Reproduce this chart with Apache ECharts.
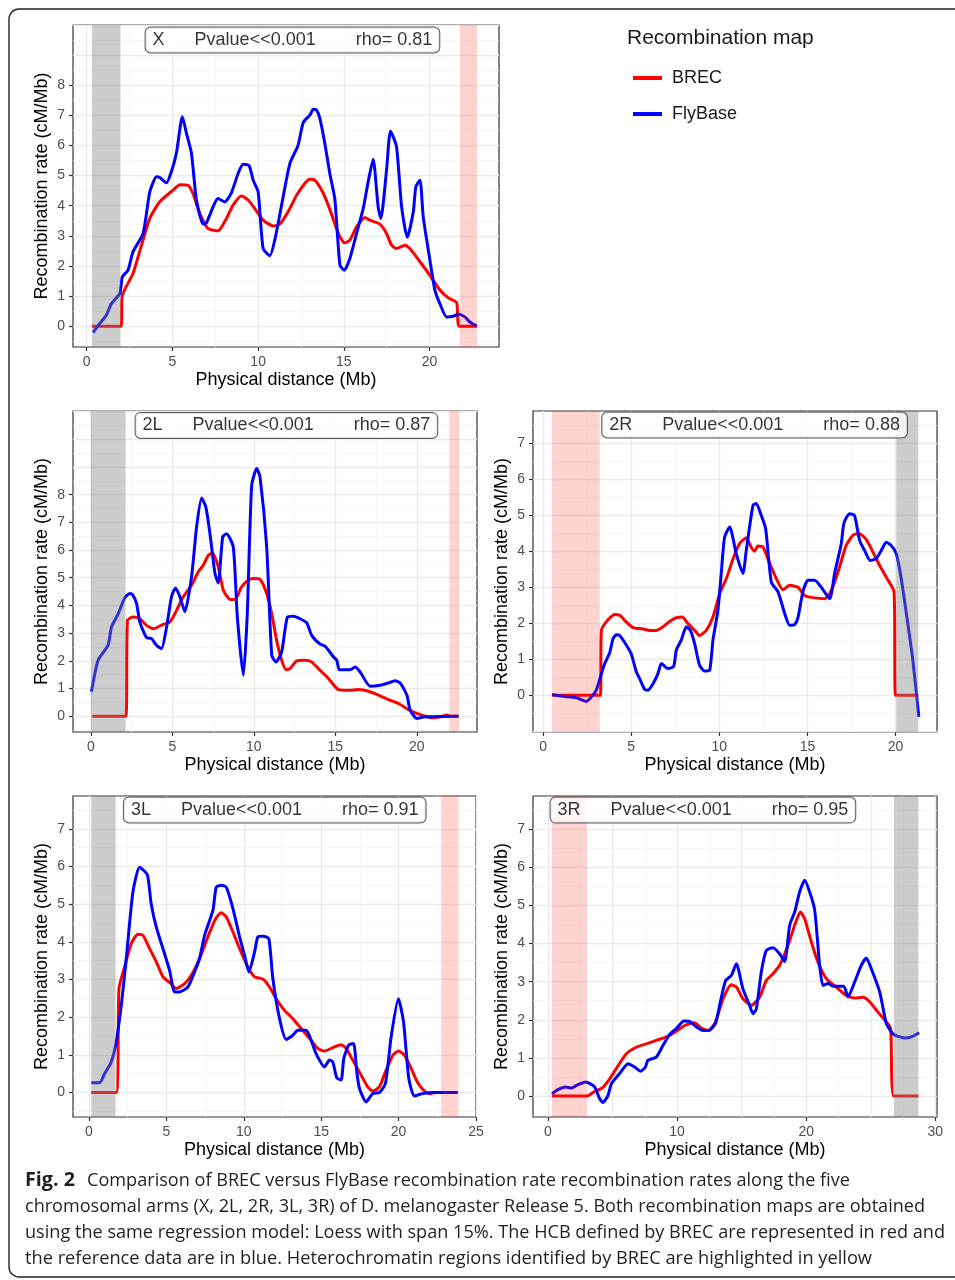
<!DOCTYPE html>
<html><head><meta charset="utf-8">
<script src="https://cdn.jsdelivr.net/npm/echarts@6/dist/echarts.min.js"></script>
<style>html,body{margin:0;padding:0;background:#fff}#c{width:955px;height:1280px}</style>
</head><body><div id="c"></div>
<script>
// ---------- DATA ----------
const seriesNames = ['BREC', 'FlyBase'];
const panelNames = ['X', '2L', '2R', '3L', '3R'];
const pvalueText = 'Pvalue<<0.001';
const rhoValues = ['0.81', '0.87', '0.88', '0.91', '0.95'];

const xTicksA = [0, 5, 10, 15, 20];
const xTicks3L = [0, 5, 10, 15, 20, 25];
const xTicks3R = [0, 10, 20, 30];
const yTicks8 = [0, 1, 2, 3, 4, 5, 6, 7, 8];
const yTicks7 = [0, 1, 2, 3, 4, 5, 6, 7];

// heterochromatin bands [start, end] in Mb
const bandX_gray = [0.31, 1.97],  bandX_pink = [21.77, 22.78];
const band2L_gray = [0.0, 2.13],  band2L_pink = [21.99, 22.6];
const band2R_pink = [0.51, 3.22], band2R_gray = [20.04, 21.29];
const band3L_gray = [0.15, 1.72], band3L_pink = [22.75, 23.87];
const band3R_pink = [0.31, 3.02], band3R_gray = [26.8, 28.69];

const X_brec = [[0.3,0],[2.0,0],[2.08,1.03],[2.7,1.75],[3.2,2.7],[3.68,3.58],[4.26,4.13],[5.04,4.52],[5.43,4.7],[5.91,4.68],[6.2,4.4],[6.6,3.74],[7.08,3.24],[7.67,3.17],[8.15,3.58],[8.54,4.02],[9.03,4.32],[9.42,4.19],[9.9,3.83],[10.29,3.52],[10.88,3.33],[11.26,3.39],[11.75,3.8],[12.24,4.35],[12.72,4.74],[13.0,4.88],[13.3,4.85],[13.7,4.52],[14.09,4.02],[14.47,3.41],[14.77,2.97],[15.06,2.77],[15.35,2.86],[15.74,3.3],[16.23,3.61],[16.52,3.52],[17.1,3.39],[17.49,3.08],[17.78,2.69],[18.07,2.58],[18.56,2.69],[18.85,2.58],[19.44,2.14],[20.02,1.69],[20.6,1.2],[21.09,0.94],[21.58,0.78],[21.73,0],[22.78,0]];
const X_fly = [[0.37,-0.21],[0.76,0.09],[1.15,0.37],[1.44,0.75],[1.93,1.09],[2.08,1.64],[2.41,1.86],[2.7,2.47],[3.29,3.08],[3.68,4.46],[4.07,4.96],[4.26,4.94],[4.65,4.76],[4.94,5.13],[5.23,5.74],[5.58,6.95],[5.82,6.4],[6.11,5.74],[6.4,4.19],[6.79,3.39],[6.98,3.43],[7.67,4.24],[8.05,4.13],[8.44,4.43],[8.83,5.07],[9.12,5.38],[9.47,5.33],[9.71,4.85],[10.0,4.46],[10.29,2.58],[10.68,2.34],[10.97,2.86],[11.46,4.3],[11.85,5.4],[12.33,6.01],[12.63,6.76],[13.02,7.01],[13.21,7.2],[13.4,7.18],[13.6,6.9],[13.89,6.07],[14.18,5.07],[14.47,4.24],[14.77,2.03],[15.02,1.86],[15.35,2.25],[15.74,3.08],[16.13,3.91],[16.42,4.8],[16.71,5.54],[17.0,3.96],[17.16,3.58],[17.49,5.18],[17.72,6.48],[18.07,5.96],[18.37,3.96],[18.7,2.95],[19.05,3.8],[19.2,4.63],[19.44,4.85],[19.63,3.63],[20.02,2.19],[20.31,1.2],[20.6,0.75],[20.99,0.31],[21.38,0.33],[21.67,0.4],[22.06,0.31],[22.35,0.14],[22.74,0.01]];

const L2_brec = [[0.1,0],[2.15,0],[2.25,3.46],[2.6,3.58],[3.01,3.52],[3.42,3.28],[3.87,3.16],[4.44,3.32],[4.85,3.4],[5.16,3.7],[5.67,4.31],[6.18,4.73],[6.59,5.21],[6.9,5.45],[7.21,5.81],[7.47,5.89],[7.82,5.39],[8.13,4.55],[8.54,4.22],[8.85,4.21],[9.25,4.67],[9.66,4.91],[9.97,4.97],[10.38,4.94],[10.79,4.43],[11.1,3.7],[11.4,2.74],[11.71,2.02],[11.98,1.68],[12.22,1.72],[12.63,2.0],[13.14,2.02],[13.55,1.96],[13.96,1.72],[14.58,1.36],[15.19,0.96],[15.81,0.94],[16.42,0.96],[17.04,0.9],[17.65,0.76],[18.26,0.6],[18.88,0.46],[19.49,0.24],[20.0,0.1],[20.52,0],[21.03,-0.06],[21.44,-0.02],[21.85,0.04],[22.05,0],[22.56,0]];
const L2_fly = [[0.04,0.88],[0.45,2.02],[1.06,2.56],[1.27,3.22],[1.68,3.7],[2.09,4.28],[2.4,4.43],[2.56,4.39],[2.81,4.07],[3.01,3.4],[3.42,2.84],[3.73,2.8],[4.03,2.56],[4.34,2.44],[4.65,3.22],[4.95,4.31],[5.2,4.63],[5.47,4.31],[5.77,3.77],[6.18,5.03],[6.49,6.83],[6.8,7.88],[7.06,7.55],[7.31,6.59],[7.62,5.15],[7.82,4.81],[8.09,6.47],[8.33,6.59],[8.74,6.11],[8.99,3.58],[9.36,1.48],[9.6,3.7],[9.87,8.34],[10.18,8.94],[10.38,8.64],[10.79,6.11],[11.1,2.2],[11.36,1.96],[11.71,2.32],[12.06,3.58],[12.43,3.61],[12.84,3.52],[13.25,3.37],[13.55,2.92],[14.07,2.6],[14.37,2.53],[14.89,2.14],[15.09,2.02],[15.25,1.68],[15.91,1.68],[16.22,1.78],[16.52,1.6],[17.14,1.08],[17.75,1.12],[18.26,1.2],[18.67,1.28],[18.98,1.2],[19.39,0.76],[19.59,0.22],[20.0,-0.08],[20.52,-0.02],[22.56,0]];

const R2_brec = [[0.51,0],[3.25,0],[3.31,1.8],[3.69,2.1],[4.06,2.24],[4.35,2.22],[4.73,2.03],[5.1,1.88],[5.67,1.84],[6.05,1.8],[6.43,1.8],[6.81,1.9],[7.18,2.05],[7.56,2.15],[7.9,2.17],[8.22,1.99],[8.6,1.8],[8.88,1.66],[9.26,1.8],[9.64,2.17],[10.02,2.82],[10.4,3.24],[10.78,3.79],[11.15,4.21],[11.53,4.37],[11.81,4.11],[12.0,4.0],[12.19,4.14],[12.48,4.11],[12.85,3.67],[13.23,3.24],[13.61,2.93],[13.99,3.05],[14.46,3.0],[14.84,2.77],[15.31,2.71],[15.97,2.68],[16.26,2.82],[16.54,3.14],[16.82,3.56],[17.2,4.16],[17.58,4.44],[17.96,4.48],[18.34,4.32],[18.71,3.98],[19.09,3.61],[19.47,3.28],[19.91,2.87],[20.0,0],[21.29,0]];
const R2_fly = [[0.51,0.02],[1.13,-0.03],[1.89,-0.07],[2.46,-0.17],[2.74,-0.05],[3.02,0.14],[3.31,0.6],[3.5,0.88],[3.78,1.18],[3.97,1.57],[4.16,1.68],[4.35,1.66],[4.73,1.39],[5.01,1.14],[5.29,0.65],[5.48,0.46],[5.77,0.16],[5.95,0.14],[6.24,0.32],[6.52,0.6],[6.71,0.88],[7.09,0.74],[7.41,0.8],[7.56,1.25],[7.84,1.53],[8.13,1.9],[8.36,1.8],[8.6,1.43],[8.88,0.83],[9.17,0.67],[9.45,0.69],[9.64,1.53],[9.92,2.36],[10.11,3.38],[10.3,4.39],[10.59,4.67],[10.96,3.93],[11.34,3.38],[11.53,4.02],[11.91,5.27],[12.1,5.32],[12.38,4.99],[12.63,4.62],[12.95,3.14],[13.33,2.87],[13.71,2.27],[13.99,1.94],[14.27,1.96],[14.46,2.15],[14.74,2.87],[15.03,3.19],[15.41,3.19],[15.78,3.0],[16.26,2.68],[16.54,3.38],[16.92,4.21],[17.07,4.78],[17.39,5.04],[17.67,4.99],[17.96,4.3],[18.24,4.02],[18.56,3.74],[18.9,3.79],[19.19,4.02],[19.47,4.25],[19.75,4.16],[20.04,3.93],[20.32,3.24],[20.6,2.31],[20.98,0.97],[21.32,-0.6]];

const L3_brec = [[0.15,0],[1.76,0],[1.94,2.76],[2.3,3.33],[2.73,3.95],[3.16,4.2],[3.49,4.17],[3.92,3.82],[4.35,3.47],[4.78,3.07],[5.21,2.92],[5.64,2.76],[6.18,2.89],[6.61,3.11],[7.14,3.55],[7.68,4.13],[8.18,4.61],[8.54,4.77],[8.87,4.66],[9.3,4.26],[9.73,3.82],[10.26,3.33],[10.7,3.07],[11.23,3.01],[11.66,2.8],[12.09,2.49],[12.63,2.18],[13.17,1.96],[13.71,1.7],[14.25,1.43],[14.78,1.17],[15.21,1.1],[15.75,1.19],[16.29,1.27],[16.61,1.17],[17.04,0.86],[17.58,0.46],[18.01,0.15],[18.33,0.04],[18.76,0.15],[19.19,0.59],[19.63,0.99],[19.99,1.1],[20.38,0.99],[20.81,0.64],[21.24,0.26],[21.67,0.04],[22.0,-0.03],[22.43,0],[23.82,0]];
const L3_fly = [[0.15,0.26],[0.69,0.26],[1.01,0.5],[1.44,0.81],[1.76,1.34],[2.09,2.32],[2.41,3.55],[2.84,5.32],[3.27,5.98],[3.77,5.78],[4.02,5.01],[4.35,4.39],[4.78,3.82],[5.21,3.24],[5.53,2.67],[5.85,2.67],[6.39,2.8],[6.82,3.2],[7.14,3.55],[7.47,4.17],[8.01,4.84],[8.22,5.45],[8.54,5.5],[8.87,5.45],[9.3,4.88],[9.73,4.13],[10.05,3.64],[10.33,3.2],[10.7,3.73],[10.91,4.13],[11.28,4.15],[11.62,4.08],[11.88,3.02],[12.31,1.96],[12.74,1.41],[13.17,1.52],[13.49,1.65],[14.03,1.65],[14.35,1.39],[14.67,1.03],[15.21,0.68],[15.54,0.86],[15.75,0.81],[16.01,0.39],[16.29,0.33],[16.46,0.9],[16.78,1.26],[17.09,1.3],[17.3,0.55],[17.47,0.11],[17.9,-0.25],[18.33,-0.03],[18.76,0],[19.15,0.24],[19.52,1.48],[19.99,2.49],[20.32,1.87],[20.66,0.37],[21.02,-0.09],[21.56,-0.03],[22.2,0],[23.82,0]];

const R3_brec = [[0.31,0],[3.02,0],[3.61,0.12],[4.21,0.21],[4.78,0.45],[5.29,0.72],[6.07,1.11],[6.84,1.28],[7.62,1.37],[8.39,1.46],[9.17,1.55],[9.94,1.7],[10.59,1.85],[11.36,1.92],[11.88,1.78],[12.39,1.72],[12.91,1.9],[13.56,2.55],[14.2,2.92],[14.59,2.86],[15.1,2.55],[15.75,2.38],[16.4,2.6],[16.91,3.03],[17.43,3.21],[17.94,3.43],[18.59,3.95],[19.11,4.48],[19.55,4.83],[19.88,4.65],[20.4,4.04],[20.91,3.51],[21.56,3.08],[22.33,2.86],[23.11,2.64],[23.75,2.57],[24.4,2.59],[24.92,2.47],[25.56,2.2],[26.21,1.94],[26.54,1.77],[26.78,0],[28.69,0]];
const R3_fly = [[0.31,0.06],[0.77,0.17],[1.37,0.24],[1.81,0.21],[2.32,0.3],[2.92,0.37],[3.61,0.24],[4.0,-0.07],[4.26,-0.17],[4.65,0.02],[4.91,0.32],[5.55,0.59],[6.2,0.85],[6.71,0.76],[7.18,0.65],[7.54,0.76],[7.75,0.94],[8.39,1.02],[8.91,1.33],[9.42,1.61],[9.94,1.77],[10.53,1.97],[10.97,1.96],[11.49,1.81],[12.01,1.72],[12.47,1.72],[12.99,1.92],[13.35,2.47],[13.76,3.03],[14.2,3.16],[14.59,3.47],[15.1,2.81],[15.57,2.42],[15.88,2.16],[16.14,2.29],[16.52,3.25],[16.91,3.82],[17.43,3.89],[17.94,3.73],[18.33,3.53],[18.72,4.48],[19.11,4.83],[19.49,5.35],[19.88,5.66],[20.27,5.35],[20.66,4.87],[21.04,3.43],[21.3,2.9],[21.69,2.95],[22.08,2.88],[22.9,2.88],[23.24,2.6],[23.75,2.99],[24.27,3.43],[24.66,3.62],[25.04,3.34],[25.69,2.73],[26.21,1.9],[26.72,1.63],[27.24,1.55],[27.76,1.52],[28.28,1.57],[28.74,1.66]];

const captionBold = 'Fig. 2';
const captionLines = [
  'Comparison of BREC versus FlyBase recombination rate recombination rates along the five',
  'chromosomal arms (X, 2L, 2R, 3L, 3R) of D. melanogaster Release 5. Both recombination maps are obtained',
  'using the same regression model: Loess with span 15%. The HCB defined by BREC are represented in red and',
  'the reference data are in blue. Heterochromatin regions identified by BREC are highlighted in yellow'
];

// ---------- LAYOUT / STYLE ----------
const FONT = '"Liberation Sans", Arial, sans-serif';
const RED = '#FF0000', BLUE = '#0000FF';
const GRAY_BAND = 'rgba(128,128,128,0.4)', PINK_BAND = 'rgba(255,40,20,0.2)';

const panels = [
  { brec: X_brec,  fly: X_fly,  bands: [[bandX_gray, GRAY_BAND], [bandX_pink, PINK_BAND]],   xr: [-0.80, 24.05], yr: [-0.69, 10.0],  xt: xTicksA,  yt: yTicks8, box: {left: 73, top: 25,  width: 426, height: 322}, lab: [12, 9.5] },
  { brec: L2_brec, fly: L2_fly, bands: [[band2L_gray, GRAY_BAND], [band2L_pink, PINK_BAND]], xr: [-1.09, 23.69], yr: [-0.57, 11.02], xt: xTicksA,  yt: yTicks8, box: {left: 73, top: 411, width: 404, height: 321}, lab: [12, 10.5] },
  { brec: R2_brec, fly: R2_fly, bands: [[band2R_pink, PINK_BAND], [band2R_gray, GRAY_BAND]], xr: [-0.57, 22.35], yr: [-1.02, 7.89],  xt: xTicksA,  yt: yTicks7, box: {left: 533, top: 411, width: 404, height: 321}, lab: [12, 7.5] },
  { brec: L3_brec, fly: L3_fly, bands: [[band3L_gray, GRAY_BAND], [band3L_pink, PINK_BAND]], xr: [-1.03, 25.0],  yr: [-0.65, 7.87],  xt: xTicks3L, yt: yTicks7, box: {left: 73, top: 796, width: 403, height: 321}, lab: [12, 7.5] },
  { brec: R3_brec, fly: R3_fly, bands: [[band3R_pink, PINK_BAND], [band3R_gray, GRAY_BAND]], xr: [-1.16, 30.13], yr: [-0.55, 7.87],  xt: xTicks3R, yt: yTicks7, box: {left: 533, top: 796, width: 404, height: 321}, lab: [12, 7.5] }
];

const majorLine = {color: '#EBEBEB', width: 1.3, type: 'solid'};
const minorLine = {color: '#F4F4F4', width: 0.8, type: 'solid'};

const grids = [], xAxes = [], yAxes = [], series = [];
panels.forEach((p, i) => {
  grids.push(Object.assign({show: true, borderColor: '#333333', borderWidth: 1.2, backgroundColor: 'transparent', containLabel: false, z: 0}, p.box));
  xAxes.push({
    type: 'value', gridIndex: i, min: p.xr[0], max: p.xr[1],
    splitLine: {show: false}, axisLine: {show: false, onZero: false},
    axisTick: {show: true, length: 4, lineStyle: {color: '#333', width: 1.2}, customValues: p.xt},
    axisLabel: {customValues: p.xt, margin: 8, color: '#4D4D4D', fontSize: 14, fontFamily: FONT},
    name: 'Physical distance (Mb)', nameLocation: 'middle', nameGap: 24,
    nameTextStyle: {fontSize: 18, color: '#000', fontFamily: FONT}
  });
  yAxes.push({
    type: 'value', gridIndex: i, min: p.yr[0], max: p.yr[1],
    splitLine: {show: false}, axisLine: {show: false, onZero: false},
    axisTick: {show: true, length: 4, lineStyle: {color: '#333', width: 1.2}, customValues: p.yt},
    axisLabel: {customValues: p.yt, margin: 8, color: '#4D4D4D', fontSize: 14, fontFamily: FONT},
    name: 'Recombination rate (cM/Mb)', nameLocation: 'middle', nameGap: 22, nameRotate: 90,
    nameTextStyle: {fontSize: 18, color: '#000', fontFamily: FONT}
  });
  // background grid lines through the library's scales
  const ml = [];
  for (let k = Math.ceil(p.xr[0] / 2.5); k * 2.5 <= p.xr[1]; k++) {
    ml.push({xAxis: k * 2.5, lineStyle: (k % 2 === 0) ? majorLine : minorLine});
  }
  for (let k = Math.ceil(p.yr[0] / 0.5); k * 0.5 <= p.yr[1]; k++) {
    ml.push({yAxis: k * 0.5, lineStyle: (k % 2 === 0) ? majorLine : minorLine});
  }
  series.push({
    type: 'line', xAxisIndex: i, yAxisIndex: i, data: [], z: 1, silent: true,
    markLine: {z: 1, silent: true, symbol: ['none', 'none'], label: {show: false}, animation: false, data: ml}
  });
  series.push({
    name: seriesNames[0], type: 'line', xAxisIndex: i, yAxisIndex: i, data: p.brec, z: 3,
    showSymbol: false, smooth: 0.2, lineStyle: {color: RED, width: 3}, itemStyle: {color: RED}, silent: true
  });
  series.push({
    name: seriesNames[1], type: 'line', xAxisIndex: i, yAxisIndex: i, data: p.fly, z: 4,
    showSymbol: false, smooth: 0.2, lineStyle: {color: BLUE, width: 3}, itemStyle: {color: BLUE}, silent: true
  });
  series.push({
    type: 'line', xAxisIndex: i, yAxisIndex: i, data: [], z: 8, silent: true,
    markArea: {z: 8, silent: true, animation: false,
      data: p.bands.map(b => [{xAxis: b[0][0], itemStyle: {color: b[1]}}, {xAxis: b[0][1]}])}
  });
  series.push({
    type: 'scatter', xAxisIndex: i, yAxisIndex: i, data: [p.lab], z: 10, silent: true,
    symbolSize: 1, itemStyle: {color: 'transparent'},
    label: {
      show: true, position: 'inside',
      formatter: panelNames[i] + '      ' + pvalueText + '        rho= ' + rhoValues[i],
      fontSize: 18, color: '#000', fontFamily: FONT,
      backgroundColor: '#fff', borderColor: '#333', borderWidth: 1, borderRadius: 5,
      padding: [4, 7, 3, 7]
    }
  });
});

// caption: fit each line to the reference width with a horizontal scale
const CAP_FONT = '19px "Open Sans"';
const CAP_BOLD = 'bold 19px "Open Sans"';
const ctx = document.createElement('canvas').getContext('2d');
function tw(t, f) { ctx.font = f; return ctx.measureText(t).width; }
const capLayout = [
  {x: 87, y: 1181, w: 763},
  {x: 25, y: 1207, w: 900},
  {x: 25, y: 1233, w: 920},
  {x: 25, y: 1259, w: 847}
];
const graphic = [
  {type: 'rect', silent: true, z: -10, shape: {x: 9, y: 9, width: 970, height: 1268, r: 10},
   style: {fill: 'none', stroke: '#222', lineWidth: 1.4}},
  {type: 'text', x: 627, y: 38, silent: true,
   style: {text: 'Recombination map', font: '21px ' + FONT, fill: '#1A1A1A', verticalAlign: 'middle'}},
  {type: 'text', x: 25, y: 1181, scaleX: 50 / tw(captionBold, CAP_BOLD), silent: true,
   style: {text: captionBold, font: CAP_BOLD, fill: '#231F20', verticalAlign: 'middle'}}
];
captionLines.forEach((t, i) => {
  const L = capLayout[i];
  graphic.push({type: 'text', x: L.x, y: L.y, scaleX: L.w / tw(t, CAP_FONT), silent: true,
    style: {text: t, font: CAP_FONT, fill: '#231F20', verticalAlign: 'middle'}});
});

const chart = echarts.init(document.getElementById('c'), null, {renderer: 'canvas'});
chart.setOption({
  animation: false,
  backgroundColor: '#fff',
  grid: grids, xAxis: xAxes, yAxis: yAxes, series: series,
  legend: {
    data: seriesNames.map(n => ({name: n, icon: 'rect'})),
    orient: 'vertical', left: 628, top: 63, itemWidth: 29, itemHeight: 4, itemGap: 16,
    selectedMode: false,
    textStyle: {fontSize: 18, color: '#1A1A1A', fontFamily: FONT, lineHeight: 20, padding: [0, 0, 0, 5]}
  },
  graphic: graphic
});
</script></body></html>
